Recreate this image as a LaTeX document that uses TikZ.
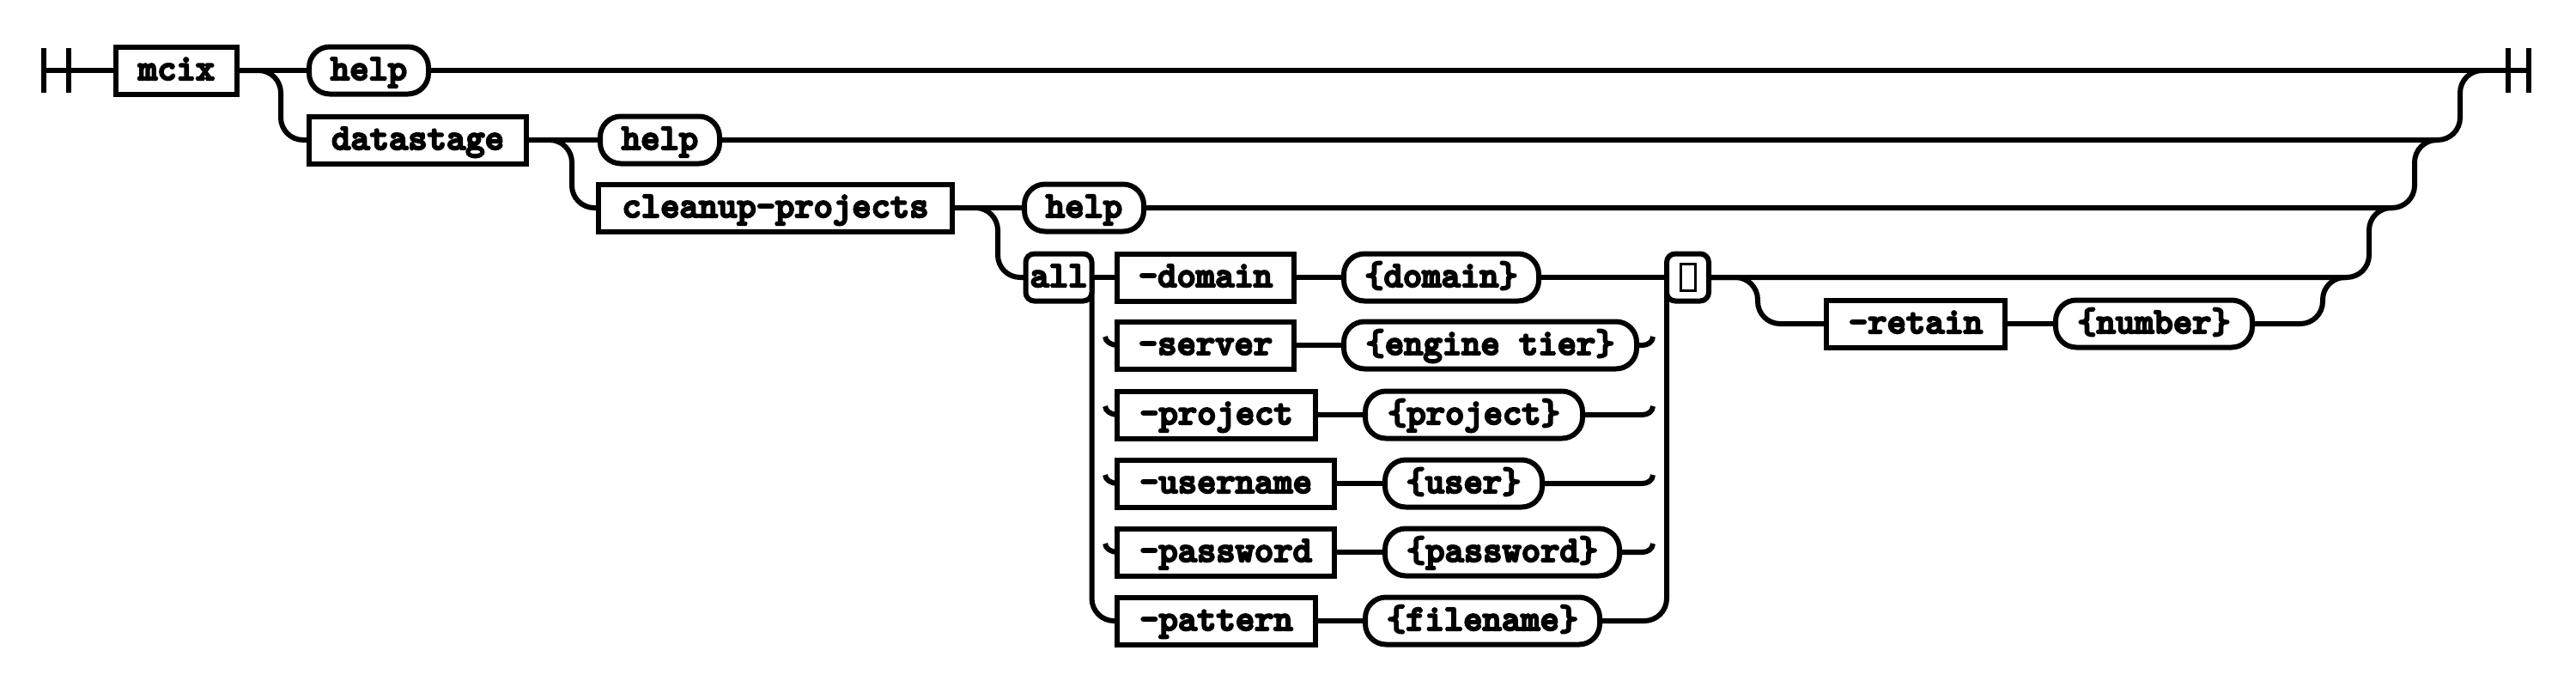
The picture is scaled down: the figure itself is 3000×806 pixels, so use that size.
\documentclass[tikz,border=0pt]{standalone}
\usepackage{fontspec}
\newfontfamily\rrfont{lmmonolt10-bold}[Extension=.otf,FakeBold=5]
\usetikzlibrary{backgrounds,calc}
\begin{document}
\begin{tikzpicture}[x=1pt,y=-1pt,line width=6pt,
  rr/.style={draw,line width=6pt,fill=white,inner sep=0pt,outer sep=0pt,minimum height=55pt,
    font=\rrfont\fontsize{42.5}{44}\selectfont,text height=30pt,text depth=8pt},
  boxnode/.style={rr},
  termnode/.style={rr,rounded corners=24pt},
  smallnode/.style={rr,rounded corners=10pt},
  conn/.style={line width=6pt,line join=round},
  rc/.style={conn,rounded corners=26pt}]
\useasboundingbox (0,0) rectangle (3000,806);

% nodes
\node[boxnode,minimum width=141pt] (mcix) at (205.5,82) {mcix};
\node[termnode,minimum width=139pt] (help1) at (429.5,82) {help};
\node[boxnode,minimum width=253pt] (datastage) at (486.5,163) {datastage};
\node[termnode,minimum width=139pt] (help2) at (768.5,163) {help};
\node[boxnode,minimum width=412pt] (cleanup) at (903,242) {cleanup-projects};
\node[termnode,minimum width=139pt] (help3) at (1262.5,242) {help};
\node[smallnode,minimum width=77pt] (all) at (1233,323) {all};
\node[boxnode,minimum width=206pt] (opdomain) at (1404,323) {-domain};
\node[termnode,minimum width=227pt] (vdomain) at (1678.5,323) {\{domain\}};
\node[smallnode,minimum width=49pt] (tofu) at (1965.5,323) {};
\node[boxnode,minimum width=206pt] (opserver) at (1404,402) {-server};
\node[termnode,minimum width=341pt] (vengine) at (1735.5,402) {\{engine tier\}};
\node[boxnode,minimum width=231pt] (opproject) at (1416.5,483) {-project};
\node[termnode,minimum width=253pt] (vproject) at (1716.5,483) {\{project\}};
\node[boxnode,minimum width=253pt] (opusername) at (1427.5,563) {-username};
\node[termnode,minimum width=183pt] (vuser) at (1704.5,563) {\{user\}};
\node[boxnode,minimum width=253pt] (oppassword) at (1427.5,643) {-password};
\node[termnode,minimum width=273pt] (vpassword) at (1749.5,643) {\{password\}};
\node[boxnode,minimum width=231pt] (oppattern) at (1416.5,723) {-pattern};
\node[termnode,minimum width=273pt] (vfilename) at (1726.5,723) {\{filename\}};
\node[boxnode,minimum width=208pt] (retain) at (2231,377) {-retain};
\node[termnode,minimum width=229pt] (number) at (2508.5,377) {\{number\}};

% missing-glyph mark inside the small box
\draw[line width=3pt] ([shift={(-8.5,-16)}]tofu.center) rectangle ([shift={(8.5,15)}]tofu.center);

% coordinates
\coordinate (s1) at (51,82);
\coordinate (s2) at (80,82);
\coordinate (e1) at (2921,82);
\coordinate (e2) at (2945,82);
\coordinate (m1) at (2865,82);   \coordinate (j1) at (2893,82);
\coordinate (m2) at (2812,163);  \coordinate (j2) at (2840,163);
\coordinate (m3) at (2759,242);  \coordinate (j3) at (2787,242);
\coordinate (m4) at (2705,323);  \coordinate (j4) at (2733,323);
\coordinate (xr) at (1913,0);

\begin{scope}[on background layer]
\begin{scope}[line width=6pt]
  % start / end bars
  \draw[conn] ([yshift=26pt]s1) -- ([yshift=-26pt]s1);
  \draw[conn] ([yshift=26pt]s2) -- ([yshift=-26pt]s2);
  \draw[conn] ([yshift=26pt]e1) -- ([yshift=-26pt]e1);
  \draw[conn] ([yshift=26pt]e2) -- ([yshift=-26pt]e2);
  % main line
  \draw[conn] (s1) -- (mcix.west);
  \draw[conn] (mcix.east) -- (help1.west);
  \draw[conn] (help1.east) -- (e2);
  \draw[rc] (mcix.east) -- ++(51,0) |- (datastage.center);
  % datastage
  \draw[conn] (datastage.east) -- (help2.west);
  \draw[rc] (help2.center) -| (m1) -- (j1);
  \draw[rc] (datastage.east) -- ++(53,0) |- (cleanup.center);
  % cleanup-projects
  \draw[conn] (cleanup.east) -- (help3.west);
  \draw[rc] (help3.center) -| (m2) -- (j2);
  \draw[rc] (cleanup.east) -- ++(53,0) |- (all.center);
  % option choice
  \draw[conn] (all.east) -- (opdomain.west);
  \draw[conn] (opdomain.east) -- (vdomain.west);
  \draw[conn] (vdomain.east) -- (tofu.west);
  \draw[conn] (opserver.east) -- (vengine.west);
  \draw[conn] (opproject.east) -- (vproject.west);
  \draw[conn] (opusername.east) -- (vuser.west);
  \draw[conn] (oppassword.east) -- (vpassword.west);
  \draw[conn] (oppattern.east) -- (vfilename.west);
  \draw[rc] (all.east) |- (oppattern.center);
  \draw[rc] (tofu.west) |- (vfilename.center);
  \foreach \n in {opserver,opproject,opusername,oppassword}
    \draw[conn] (\n.west) ++(-14,-10) .. controls +(0,6) and +(-6,0) .. (\n.west);
  \foreach \n in {vengine,vproject,vuser,vpassword}
    \draw[conn] (\n.east) -- (\n.east -| xr) .. controls +(6,0) and +(0,6) .. ++(12,-10);
  % after the choice
  \draw[rc] (tofu.center) -| (m3) -- (j3);
  \draw[rc] (tofu.east) -- ++(57,0) |- (retain.center);
  \draw[conn] (retain.east) -- (number.west);
  \draw[rc] (number.center) -| (m4) -- (j4);
\end{scope}
\end{scope}
\end{tikzpicture}
\end{document}
